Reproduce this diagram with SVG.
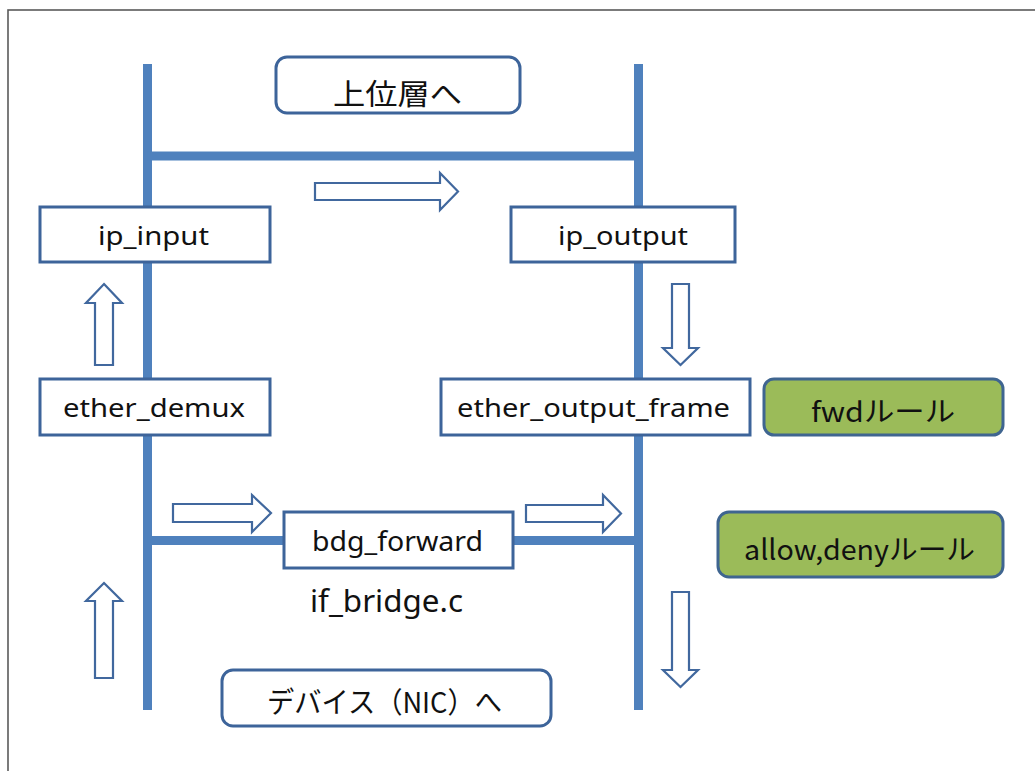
<svg xmlns="http://www.w3.org/2000/svg" width="1035" height="771" viewBox="0 0 1035 771">
<style>
.bar{stroke:#4f81bd;stroke-width:9;fill:none}
.box{fill:#ffffff;stroke:#3d649a;stroke-width:3}
.rbox{fill:#ffffff;stroke:#3d649a;stroke-width:3}
.gbox{fill:#9bbb59;stroke:#3f6590;stroke-width:3}
.arr{fill:#ffffff;stroke:#41689e;stroke-width:2.2;stroke-linejoin:miter}
.lbl{font-family:"Noto Sans","Liberation Sans",sans-serif;font-size:26px;fill:#111}
.jp{font-family:"Noto Sans CJK JP","Noto Sans",sans-serif;font-size:29px;fill:#111}
</style>
<rect x="0" y="0" width="1035" height="771" fill="#ffffff"/>
<rect x="8" y="10" width="1040" height="800" fill="none" stroke="#5a5a5a" stroke-width="1.6"/>
<g id="connectors">
<line class="bar" x1="147.5" y1="64" x2="147.5" y2="710"/>
<line class="bar" x1="638.5" y1="64" x2="638.5" y2="710"/>
<line class="bar" x1="147.5" y1="156" x2="638.5" y2="156"/>
<line class="bar" x1="147.5" y1="540.5" x2="638.5" y2="540.5"/>
<polygon class="arr" points="315,183 440,183 440,173 458,191.5 440,210 440,200 315,200"/>
<polygon class="arr" points="173,504 252,504 252,495 271,513 252,532 252,522 173,522"/>
<polygon class="arr" points="526,505 603,505 603,495 621,513.5 603,532 603,522 526,522"/>
<polygon class="arr" points="104,284 122,303 113,303 113,365 95,365 95,303 86,303"/>
<polygon class="arr" points="104,583 122,601 113,601 113,678 95,678 95,601 86,601"/>
<polygon class="arr" points="672,284 689,284 689,348 698,348 680.5,365 663,348 672,348"/>
<polygon class="arr" points="672,592 689,592 689,670 698,670 680.5,687 663,670 672,670"/>
</g>
<g id="upper">
<rect class="rbox" x="276" y="57" width="244" height="56" rx="11"/>
<text class="jp" x="333" y="105" textLength="129" lengthAdjust="spacingAndGlyphs">上位層へ</text>
</g>
<g id="ip_input">
<rect class="box" x="40" y="207" width="230" height="55"/>
<text class="lbl" x="98" y="245" textLength="111" lengthAdjust="spacingAndGlyphs">ip_input</text>
</g>
<g id="ip_output">
<rect class="box" x="511" y="207" width="224" height="55"/>
<text class="lbl" x="558" y="245" textLength="130" lengthAdjust="spacingAndGlyphs">ip_output</text>
</g>
<g id="ether_demux">
<rect class="box" x="40" y="379" width="230" height="56"/>
<text class="lbl" x="63" y="417" textLength="182" lengthAdjust="spacingAndGlyphs">ether_demux</text>
</g>
<g id="ether_output_frame">
<rect class="box" x="441" y="379" width="309" height="56"/>
<text class="lbl" x="457" y="417" textLength="273" lengthAdjust="spacingAndGlyphs">ether_output_frame</text>
</g>
<g id="fwd_rule">
<rect class="gbox" x="764" y="379" width="239" height="56" rx="10"/>
<text class="jp" x="811" y="422" style="font-size:28px" textLength="144" lengthAdjust="spacingAndGlyphs">fwdルール</text>
</g>
<g id="allow_deny_rule">
<rect class="gbox" x="718" y="512" width="285" height="65" rx="11"/>
<text class="jp" x="744" y="560" style="font-size:28px" textLength="231" lengthAdjust="spacingAndGlyphs">allow,denyルール</text>
</g>
<g id="bdg_forward">
<rect class="box" x="284" y="512" width="229" height="56"/>
<text class="lbl" x="312" y="551" style="font-size:28px" textLength="171" lengthAdjust="spacingAndGlyphs">bdg_forward</text>
</g>
<g id="if_bridge">
<text class="lbl" x="310" y="612" style="font-size:31px" textLength="153" lengthAdjust="spacingAndGlyphs">if_bridge.c</text>
</g>
<g id="device">
<rect class="rbox" x="222" y="670" width="329" height="56" rx="11"/>
<text class="jp" x="267" y="713" textLength="235" lengthAdjust="spacingAndGlyphs">デバイス（NIC）へ</text>
</g>
</svg>
